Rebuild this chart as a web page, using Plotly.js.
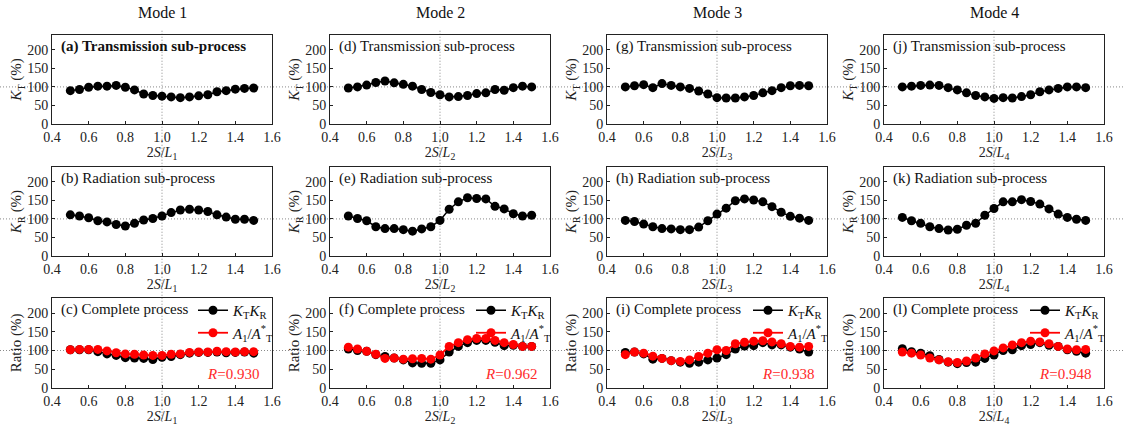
<!DOCTYPE html>
<html>
<head>
<meta charset="utf-8">
<script src="https://cdn.plot.ly/plotly-3.0.1.min.js"></script>
<style>html,body{margin:0;padding:0;background:#fff;}#chart{width:1123px;height:426px;}</style>
</head>
<body>
<div id="chart"></div>
<script>
// ---- data ----
const xRatio = [0.5,0.55,0.6,0.65,0.7,0.75,0.8,0.85,0.9,0.95,1.0,1.05,1.1,1.15,1.2,1.25,1.3,1.35,1.4,1.45,1.5];
const modeNames = ["Mode 1","Mode 2","Mode 3","Mode 4"];

// Transmission sub-process K_T (%)
const kT_mode1 = [90,93,99,102,102,104,99,92,81,77,75,73,71,73,76,79,87,90,94,96,97];
const kT_mode2 = [97,100,105,112,116,111,107,102,93,85,79,73,74,77,82,84,93,91,98,102,100];
const kT_mode3 = [100,103,106,98,109,104,100,96,89,81,71,70,70,73,77,84,90,98,103,104,103];
const kT_mode4 = [100,102,104,105,104,98,92,84,77,73,69,71,70,74,79,87,92,96,100,100,98];

// Radiation sub-process K_R (%)
const kR_mode1 = [111,108,103,95,92,85,81,88,97,101,108,117,124,126,124,120,111,105,99,99,96];
const kR_mode2 = [108,101,95,79,74,74,71,67,73,79,96,126,146,157,155,154,134,127,114,108,110];
const kR_mode3 = [96,93,86,79,74,73,71,71,78,95,113,129,149,154,151,146,133,118,107,102,96];
const kR_mode4 = [104,95,88,79,74,70,72,83,88,110,128,146,146,152,147,140,127,113,104,99,96];

// Complete process: K_T*K_R (%)
const kTkR_mode1 = [102,102,102,97,91,87,81,80,79,76,82,84,89,93,95,95,96,94,95,96,93];
const kTkR_mode2 = [104,100,98,89,84,80,75,67,66,66,75,96,111,121,127,127,122,113,114,111,111];
const kTkR_mode3 = [95,96,91,77,79,73,69,66,69,75,80,89,104,112,113,121,115,115,109,104,96];
const kTkR_mode4 = [105,97,93,86,76,69,65,68,69,79,88,100,102,113,116,121,114,111,102,98,93];

// Complete process: A1/A*T (%)
const aRatio_mode1 = [102,103,103,103,99,94,91,90,88,87,87,90,91,95,96,96,98,97,96,97,97];
const aRatio_mode2 = [109,104,98,90,79,80,77,78,79,77,88,111,121,129,132,132,127,121,116,111,111];
const aRatio_mode3 = [89,96,93,85,79,73,71,75,84,93,102,100,118,122,125,126,123,118,111,109,111];
const aRatio_mode4 = [96,93,88,80,75,70,68,72,80,91,99,107,115,121,125,123,118,111,104,102,103];

const rValues = ["0.930","0.962","0.938","0.948"];
const panelLetters = [["a","b","c"],["d","e","f"],["g","h","i"],["j","k","l"]];
const rowTexts = ["Transmission sub-process","Radiation sub-process","Complete process"];

const kTSeries = [kT_mode1,kT_mode2,kT_mode3,kT_mode4];
const kRSeries = [kR_mode1,kR_mode2,kR_mode3,kR_mode4];
const kTkRSeries = [kTkR_mode1,kTkR_mode2,kTkR_mode3,kTkR_mode4];
const aRatioSeries = [aRatio_mode1,aRatio_mode2,aRatio_mode3,aRatio_mode4];

// ---- layout geometry ----
const W = 1123, H = 426;
const colPx = [[52,272],[330,550],[607,827],[884,1104]];
const rowPx = [[35,124],[167,256],[298,388]];
const yRange = [0,240];
const FONT = "Liberation Serif, Times New Roman, serif";

const traces = [];
const layout = {
  width: W, height: H,
  margin: {l:0,r:0,t:0,b:0},
  paper_bgcolor: "#ffffff",
  plot_bgcolor: "rgba(0,0,0,0)",
  font: {family: FONT, size: 14, color: "#111"},
  annotations: [],
  shapes: []
};

const yTitles = ["<i>K</i><sub>T</sub> (%)","<i>K</i><sub>R</sub> (%)","Ratio (%)"];
const refLine = {color: "#8a8a8a", width: 1, dash: "1px,2px"};

for (let c = 0; c < 4; c++) {
  const xd = [colPx[c][0]/W, colPx[c][1]/W];
  for (let r = 0; r < 3; r++) {
    const idx = r*4 + c + 1;
    const xn = "x" + idx, yn = "y" + idx;
    const yd = [1 - rowPx[r][1]/H, 1 - rowPx[r][0]/H];
    layout["xaxis" + idx] = {
      domain: xd, anchor: yn, range: [0.4,1.6],
      tick0: 0.4, dtick: 0.2, tickformat: ".1f",
      showline: true, mirror: true, linecolor: "#222", linewidth: 1,
      ticks: "inside", ticklen: 3, tickcolor: "#222",
      showgrid: false, zeroline: false,
      tickfont: {family: FONT, size: 14, color: "#222"},
      title: {text: "2<i>S</i>/<i>L</i><sub>" + (c+1) + "</sub>", font: {family: FONT, size: 14, color: "#222"}, standoff: 0}
    };
    layout["yaxis" + idx] = {
      domain: yd, anchor: xn, range: yRange, dtick: 50, tick0: 0,
      showline: true, mirror: true, linecolor: "#222", linewidth: 1,
      ticks: "inside", ticklen: 3, tickcolor: "#222",
      showgrid: false, zeroline: false,
      tickfont: {family: FONT, size: 14, color: "#222"},
      title: {text: yTitles[r], font: {family: FONT, size: 15, color: "#222"}, standoff: 1}
    };
    // panel label
    const lbl = "(" + panelLetters[c][r] + ") " + rowTexts[r];
    layout.annotations.push({
      xref: xn + " domain", yref: yn + " domain", x: 0.03, y: 0.985,
      xanchor: "left", yanchor: "top", showarrow: false,
      text: (c === 0 && r === 0) ? "<b>" + lbl + "</b>" : lbl,
      font: {family: FONT, size: 15, color: "#111"}
    });
    // data traces
    if (r === 0) {
      traces.push({x: xRatio, y: kTSeries[c], xaxis: xn, yaxis: yn, type: "scatter", mode: "lines+markers",
        line: {color: "#000", width: 1.5}, marker: {color: "#000", size: 9}, showlegend: false});
    } else if (r === 1) {
      traces.push({x: xRatio, y: kRSeries[c], xaxis: xn, yaxis: yn, type: "scatter", mode: "lines+markers",
        line: {color: "#000", width: 1.5}, marker: {color: "#000", size: 9}, showlegend: false});
    } else {
      const lg = c === 0 ? "legend" : "legend" + (c+1);
      traces.push({x: xRatio, y: kTkRSeries[c], xaxis: xn, yaxis: yn, type: "scatter", mode: "lines+markers",
        name: "<i>K</i><sub>T</sub><i>K</i><sub>R</sub>",
        line: {color: "#000", width: 1.5}, marker: {color: "#000", size: 9}, legend: lg});
      traces.push({x: xRatio, y: aRatioSeries[c], xaxis: xn, yaxis: yn, type: "scatter", mode: "lines+markers",
        name: "<i>A</i><sub>1</sub>/<i>A</i><sup>*</sup><sub>T</sub>",
        line: {color: "#ff0000", width: 1.8}, marker: {color: "#ff0000", size: 9}, legend: lg});
      layout[lg] = {
        x: xd[1] + 8/W, y: yd[1] + 4/H, xanchor: "right", yanchor: "top",
        bgcolor: "rgba(0,0,0,0)", borderwidth: 0,
        font: {family: FONT, size: 15, color: "#111"},
        itemwidth: 30, tracegroupgap: 0
      };
      layout.annotations.push({
        xref: xn + " domain", yref: yn + " domain", x: 0.95, y: 0.04,
        xanchor: "right", yanchor: "bottom", showarrow: false,
        text: "<i>R</i>=" + rValues[c],
        font: {family: FONT, size: 15, color: "#ff2a2a"}
      });
    }
    // horizontal reference line at 100 % across full width (paper coords from domain)
    if (c === 0) {
      const yp = yd[0] + (100 - yRange[0]) / (yRange[1] - yRange[0]) * (yd[1] - yd[0]);
      layout.shapes.push({type: "line", xref: "paper", yref: "paper", x0: 0, x1: 1, y0: yp, y1: yp,
        line: refLine, layer: "below"});
    }
  }
  // vertical reference line at 2S/L = 1.0 (centre of range) through the column
  const xm = (xd[0] + xd[1]) / 2;
  layout.shapes.push({type: "line", xref: "paper", yref: "paper", x0: xm, x1: xm, y0: 0.01, y1: 0.93,
    line: refLine, layer: "below"});
  // column title
  layout.annotations.push({
    xref: "paper", yref: "paper", x: xm, y: 1 - 13/H, xanchor: "center", yanchor: "middle",
    showarrow: false, text: modeNames[c], font: {family: FONT, size: 16, color: "#111"}
  });
}

Plotly.newPlot("chart", traces, layout, {displayModeBar: false, staticPlot: true});
</script>
</body>
</html>
